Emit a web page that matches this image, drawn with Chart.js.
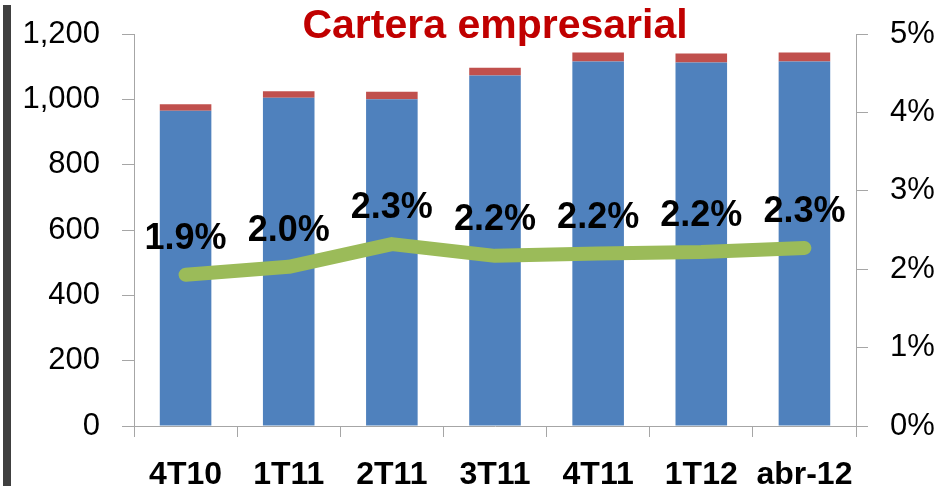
<!DOCTYPE html>
<html>
<head>
<meta charset="utf-8">
<script src="https://cdn.jsdelivr.net/npm/chart.js@4/dist/chart.umd.min.js"></script>
<style>
  html, body { margin: 0; padding: 0; background: #fff; }
  #wrap { position: relative; width: 943px; height: 486px; }
  #edge { position: absolute; left: 3px; top: 5px; width: 8px; height: 481px; background: #404040; }
</style>
</head>
<body>
<div id="wrap">
  <canvas id="cartera-chart" width="943" height="486"></canvas>
  <div id="edge"></div>
</div>
<script>
// --- Chart data ---
const periods = ['4T10', '1T11', '2T11', '3T11', '4T11', '1T12', 'abr-12'];
const carteraVigente = [965, 1005, 1000, 1073, 1116, 1113, 1116];
const carteraVencida = [20, 20, 23, 24, 27, 27, 27];
const indiceMorosidad = [1.93, 2.03, 2.32, 2.17, 2.20, 2.22, 2.27];
const leftTicks = [0, 200, 400, 600, 800, 1000, 1200];
const rightTicks = [0, 1, 2, 3, 4, 5];

const axisGray = '#a6a6a6';
const tickFont = { family: 'Liberation Sans', size: 31 };

// Draws the % labels over the line and the title
const overlayPlugin = {
    id: 'overlay',
    afterDatasetsDraw(chart) {
        const ctx = chart.ctx;
        const meta = chart.getDatasetMeta(2);
        ctx.save();
        ctx.fillStyle = '#000';
        ctx.font = 'bold 36px "Liberation Sans"';
        ctx.textAlign = 'center';
        ctx.textBaseline = 'alphabetic';
        meta.data.forEach((pt, i) => {
            ctx.fillText(indiceMorosidad[i].toFixed(1) + '%', pt.x, pt.y - 26);
        });

        const area = chart.chartArea;
        ctx.fillStyle = '#C00000';
        ctx.font = 'bold 41px "Liberation Sans"';
        ctx.textBaseline = 'middle';
        ctx.fillText('Cartera empresarial', (area.left + area.right) / 2, 27);
        ctx.restore();
    }
};

// keep the tick labels from pushing the plot area around
function noVerticalPad(scale) {
    scale.paddingTop = 0;
    scale.paddingBottom = 0;
}

const ctx = document.getElementById('cartera-chart').getContext('2d');
new Chart(ctx, {
    type: 'bar',
    data: {
        labels: periods,
        datasets: [
            {
                label: 'Vigente',
                data: carteraVigente,
                backgroundColor: '#4F81BD',
                yAxisID: 'y',
                stack: 'cartera',
                order: 2
            },
            {
                label: 'Vencida',
                data: carteraVencida,
                backgroundColor: '#C0504D',
                yAxisID: 'y',
                stack: 'cartera',
                order: 2
            },
            {
                type: 'line',
                label: 'IMOR',
                data: indiceMorosidad,
                borderColor: '#9BBB59',
                borderWidth: 14,
                borderCapStyle: 'round',
                borderJoinStyle: 'round',
                pointRadius: 0,
                tension: 0,
                yAxisID: 'y1',
                order: 1
            }
        ]
    },
    options: {
        responsive: false,
        animation: false,
        layout: { padding: { top: 34, left: 0, right: 0, bottom: 0 } },
        plugins: {
            legend: { display: false },
            tooltip: { enabled: false }
        },
        datasets: {
            bar: { barPercentage: 0.5, categoryPercentage: 1 }
        },
        scales: {
            x: {
                stacked: true,
                offset: true,
                grid: { display: true, drawOnChartArea: false, offset: true, color: axisGray, tickLength: 11 },
                border: { color: axisGray },
                ticks: { color: '#000', font: { family: 'Liberation Sans', size: 32, weight: 'bold' }, padding: 19, maxRotation: 0 },
                afterFit(scale) {
                    scale.height = 60;
                    scale.paddingLeft = 0;
                    scale.paddingRight = 0;
                }
            },
            y: {
                stacked: true,
                position: 'left',
                min: 0,
                max: 1200,
                afterBuildTicks(scale) { scale.ticks = leftTicks.map(v => ({ value: v })); },
                grid: { drawOnChartArea: false, color: axisGray, tickLength: 12 },
                border: { color: axisGray },
                ticks: {
                    color: '#000',
                    font: tickFont,
                    padding: 22,
                    callback: v => v.toLocaleString('en-US')
                },
                afterFit(scale) {
                    scale.width = 134;
                    noVerticalPad(scale);
                }
            },
            y1: {
                position: 'right',
                min: 0,
                max: 5,
                afterBuildTicks(scale) { scale.ticks = rightTicks.map(v => ({ value: v })); },
                grid: { drawOnChartArea: false, color: axisGray, tickLength: 12 },
                border: { color: axisGray },
                ticks: {
                    color: '#000',
                    font: tickFont,
                    padding: 22,
                    callback: v => v + '%'
                },
                afterFit(scale) {
                    scale.width = 87;
                    noVerticalPad(scale);
                }
            }
        }
    },
    plugins: [overlayPlugin]
});
</script>
</body>
</html>
